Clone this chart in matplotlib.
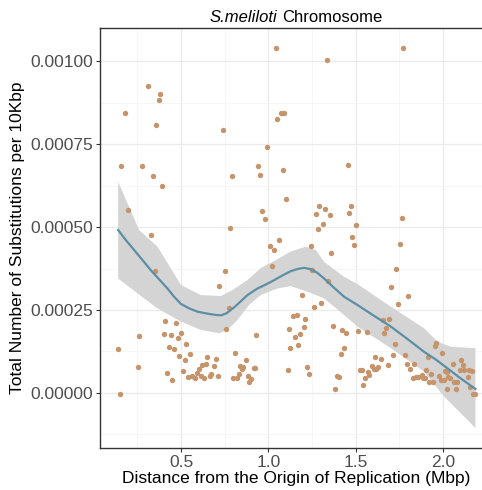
import numpy as np
import matplotlib
matplotlib.use("Agg")
import matplotlib.pyplot as plt
from matplotlib.ticker import MultipleLocator
from matplotlib.offsetbox import TextArea, HPacker, AnchoredOffsetbox

plt.rcParams['font.family'] = ['Liberation Sans', 'DejaVu Sans']

# distance from origin (Mbp) and substitutions per 10Kbp (in units of 1e-5)
dist = [
    1.041, 1.333, 1.773, 0.310, 0.380, 0.371, 0.180, 0.359, 0.741, 1.071,
    1.090, 1.052, 0.991, 0.159, 0.279, 0.340, 0.390, 0.790, 0.941, 0.951,
    1.081, 1.101, 0.199, 0.962, 0.981, 0.781, 1.453, 1.292, 1.323, 1.271,
    1.353, 1.472, 1.462, 1.311, 1.283, 1.502, 1.764, 1.061, 1.010, 1.033,
    1.481, 1.491, 1.243, 1.361, 1.021, 0.753, 1.252, 1.344, 1.191, 0.329,
    0.350, 0.720, 1.752, 1.731, 1.702, 1.802, 1.742, 0.772, 0.760, 0.409,
    0.472, 0.400, 0.440, 0.500, 0.481, 0.260, 0.931, 0.140, 0.430, 0.460,
    0.531, 0.489, 0.550, 0.520, 0.649, 0.699, 0.811, 0.871, 0.251, 0.420,
    0.449, 0.510, 0.620, 0.642, 0.600, 0.687, 0.540, 0.560, 0.580, 0.590,
    0.613, 0.632, 0.663, 0.672, 0.710, 0.840, 0.857, 0.849, 0.916, 0.925,
    0.800, 0.822, 0.831, 0.882, 0.902, 0.891, 1.111, 1.124, 0.149, 1.118,
    1.262, 1.303, 1.141, 1.163, 1.210, 1.203, 1.180, 1.153, 1.372, 1.422,
    1.443, 1.171, 1.433, 1.413, 1.222, 1.233, 1.392, 1.403, 1.382, 1.655,
    1.693, 1.674, 1.662, 1.512, 1.563, 1.724, 1.712, 1.962, 1.954, 1.994,
    1.782, 1.523, 1.533, 1.592, 1.569, 1.576, 1.552, 1.542, 1.609, 1.643,
    1.682, 1.602, 1.616, 1.630, 1.792, 1.813, 1.832, 1.903, 1.931, 1.825,
    1.845, 1.859, 1.878, 1.886, 1.895, 1.922, 1.945, 1.974, 1.989, 2.004,
    2.010, 2.021, 2.054, 2.029, 2.023, 2.042, 2.065, 2.082, 2.074, 2.094,
    2.103, 2.113, 2.120, 2.147, 2.141, 2.163, 2.153, 2.172, 2.185, 1.914,
]
subs_e5 = [
    103.9, 100.5, 104.0, 92.4, 90.0, 88.3, 84.5, 80.7, 79.3, 84.5,
    84.3, 82.7, 74.2, 68.4, 68.4, 65.4, 62.3, 65.4, 68.4, 65.6,
    67.2, 58.4, 55.0, 54.8, 52.5, 49.7, 68.8, 56.4, 55.3, 53.8,
    53.7, 56.2, 54.2, 50.8, 49.4, 50.7, 52.8, 46.2, 44.3, 43.0,
    46.9, 44.5, 44.3, 42.1, 38.3, 36.8, 37.0, 33.8, 29.6, 47.5,
    36.8, 32.3, 44.8, 37.3, 31.8, 29.2, 26.9, 25.5, 19.3, 21.8,
    21.2, 17.9, 17.6, 18.1, 16.6, 17.1, 17.4, 13.3, 13.8, 13.2,
    14.8, 11.2, 11.8, 9.9, 10.8, 10.2, 12.0, 9.8, 7.7, 6.1,
    3.8, 6.5, 8.4, 8.6, 7.1, 8.1, 4.9, 5.1, 4.4, 5.9,
    5.1, 4.4, 5.2, 5.7, 5.1, 8.1, 7.7, 7.1, 7.4, 7.4,
    4.4, 4.4, 5.7, 5.1, 4.1, 3.2, 7.0, 13.6, -0.2, 19.3,
    25.9, 27.0, 23.2, 23.4, 22.2, 20.0, 17.8, 17.0, 20.1, 18.9,
    18.2, 14.3, 13.5, 11.7, 7.8, 5.8, 5.1, 4.8, 1.2, 22.0,
    22.2, 19.5, 18.0, 18.7, 18.5, 14.8, 11.4, 15.1, 14.2, 12.0,
    11.4, 7.0, 7.0, 8.2, 6.2, 5.5, 4.5, 2.3, 10.8, 10.2,
    8.3, 7.2, 7.2, 7.8, 8.6, 7.3, 8.7, 6.8, 5.8, 4.5,
    4.9, 4.9, 5.3, 4.5, 4.5, 3.3, 3.4, 5.0, 4.0, 4.0,
    6.6, 6.3, 8.6, 4.7, 1.3, 4.5, 3.3, 3.3, 1.3, 6.9,
    9.9, 8.4, 6.9, 6.9, 4.7, 6.6, 1.7, -0.2, -0.2, 10.9,
]

# loess fit (1e-5 units)
fit_x = [0.140, 0.185, 0.231, 0.280, 0.327, 0.375, 0.422, 0.460, 0.500, 0.550,
         0.594, 0.650, 0.700, 0.730, 0.760, 0.804, 0.850, 0.880, 0.938, 0.990,
         1.033, 1.080, 1.128, 1.170, 1.204, 1.243, 1.280, 1.319, 1.380, 1.433,
         1.510, 1.600, 1.701, 1.800, 1.891, 1.960, 2.025, 2.100, 2.185]
fit_y = [49.1, 46.0, 43.1, 40.0, 37.0, 34.2, 31.5, 29.0, 26.8, 25.4,
         24.5, 23.9, 23.5, 23.4, 24.0, 25.8, 28.0, 29.5, 31.5, 32.8,
         34.0, 35.4, 36.7, 37.4, 37.7, 37.3, 36.2, 34.5, 31.5, 29.0,
         26.5, 23.4, 20.0, 16.1, 12.4, 10.0, 7.4, 4.4, 1.2]
ci_hi_x = [0.140, 0.260, 0.365, 0.500, 0.613, 0.728, 0.794, 0.880, 0.956, 1.052,
           1.128, 1.214, 1.271, 1.319, 1.433, 1.510, 1.701, 1.891, 1.968, 2.044,
           2.185]
ci_hi_y = [63.6, 49.1, 44.1, 32.5, 29.5, 29.2, 31.0, 34.0, 37.6, 40.3,
           42.6, 44.1, 43.1, 39.5, 35.0, 32.8, 26.0, 19.5, 15.5, 13.9,
           13.5]
ci_lo_x = [0.140, 0.251, 0.365, 0.500, 0.613, 0.718, 0.766, 0.823, 0.889, 0.956,
           1.052, 1.128, 1.224, 1.319, 1.433, 1.510, 1.701, 1.891, 2.006, 2.120,
           2.185]
ci_lo_y = [34.5, 30.0, 25.5, 21.5, 19.0, 18.0, 19.0, 22.0, 26.5, 29.5,
           31.5, 32.2, 30.5, 28.5, 23.5, 20.0, 13.5, 6.4, -1.1, -7.1,
           -10.6]

x = np.array(dist)
y = np.array(subs_e5) * 1e-5

fig = plt.figure(figsize=(4.82, 4.90), dpi=100)
ax = fig.add_axes([100 / 482, 42 / 490, 392 / 482, 420 / 490])

# grid like theme_bw
ax.xaxis.set_major_locator(MultipleLocator(0.5))
ax.xaxis.set_minor_locator(MultipleLocator(0.25))
ax.yaxis.set_major_locator(MultipleLocator(0.00025))
ax.yaxis.set_minor_locator(MultipleLocator(0.000125))
ax.grid(which='major', color='#ebebeb', linewidth=1.0, zorder=0)
ax.grid(which='minor', color='#f5f5f5', linewidth=0.6, zorder=0)
ax.set_axisbelow(True)

# confidence band
band_x = ci_hi_x + ci_lo_x[::-1]
band_y = np.array(ci_hi_y + ci_lo_y[::-1]) * 1e-5
ax.fill(band_x, band_y, color='#d4d4d4', linewidth=0, zorder=2)

ax.scatter(x, y, s=15, color='#c6946b', linewidths=0, zorder=3)
ax.plot(fit_x, np.array(fit_y) * 1e-5, color='#5b8fa6', linewidth=1.6, zorder=4)

ax.set_xlim(0.036, 2.28)
ax.set_ylim(-0.000166, 0.0011)
ax.set_xticks([0.5, 1.0, 1.5, 2.0])
ax.set_xticklabels(['0.5', '1.0', '1.5', '2.0'])
yt = [0.0, 0.00025, 0.0005, 0.00075, 0.001]
ax.set_yticks(yt)
ax.set_yticklabels(['0.00000', '0.00025', '0.00050', '0.00075', '0.00100'])

ax.tick_params(which='major', length=3, width=0.8, color='#333333',
               labelsize=12.5, labelcolor='#4d4d4d', pad=2)
ax.tick_params(which='minor', length=0)
for s in ax.spines.values():
    s.set_color('#333333')
    s.set_linewidth(1.0)

ax.set_xlabel('Distance from the Origin of Replication (Mbp)', fontsize=12.5, labelpad=1)
ax.set_ylabel('Total Number of Substitutions per 10Kbp', fontsize=12.5, labelpad=4)

# title: italic species name + plain text
t1 = TextArea('S.meliloti', textprops=dict(fontsize=12, style='italic'))
t2 = TextArea('Chromosome', textprops=dict(fontsize=12))
title = HPacker(children=[t1, t2], align='baseline', pad=0, sep=3.5)
anch = AnchoredOffsetbox(loc='lower center', child=title, pad=0, frameon=False,
                         bbox_to_anchor=(0.5, 1.008), bbox_transform=ax.transAxes,
                         borderpad=0)
ax.add_artist(anch)

plt.savefig('out.png', dpi=100)
